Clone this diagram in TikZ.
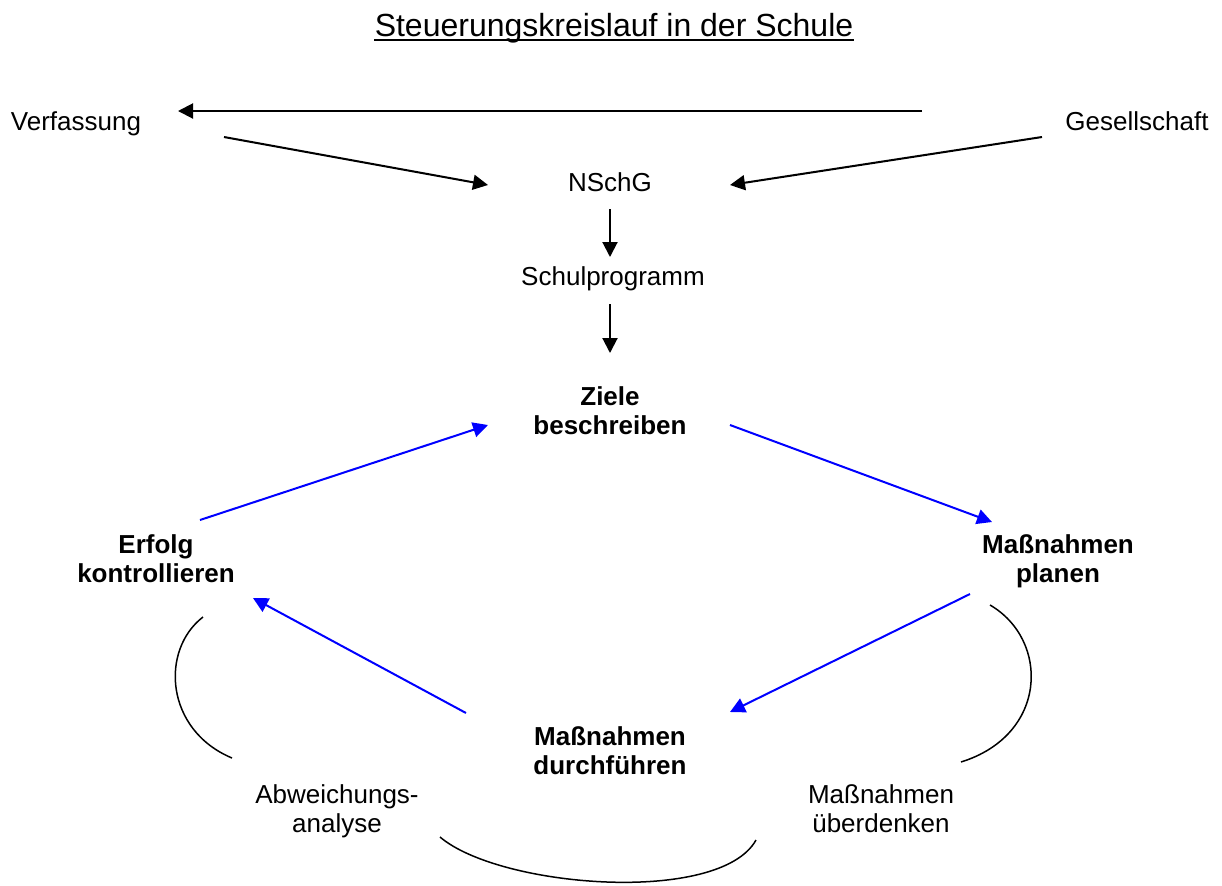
\documentclass[tikz,border=0pt]{standalone}
\usepackage{fontspec}
\setmainfont{Liberation Sans}
\usetikzlibrary{arrows.meta}
\begin{document}
\begin{tikzpicture}[x=0.5pt,y=-0.5pt,
  lbl/.style={inner sep=0pt,font=\fontsize{13}{14.5}\selectfont,align=center},
  blbl/.style={lbl,font=\fontsize{13}{14.5}\selectfont\bfseries},
  blk/.style={line width=1pt,-{Triangle[length=7.5pt,width=7.5pt]}},
  blu/.style={line width=1pt,draw={rgb,255:red,0;green,0;blue,255},-{Triangle[length=7.5pt,width=7.5pt]},fill={rgb,255:red,0;green,0;blue,255}},
  arcline/.style={line width=0.75pt}]
\useasboundingbox (0,0) rectangle (1222,885);
% texts
\node[inner sep=0pt,font=\fontsize{16}{18}\selectfont,anchor=base] (title) at (614,36) {Steuerungskreislauf in der Schule};
\draw[line width=1pt] ([yshift=-2pt]title.base west) -- ([yshift=-2pt]title.base east);
\node[lbl,anchor=base] (verf) at (76,130) {Verfassung};
\node[lbl,anchor=base] (ges) at (1137,130) {Gesellschaft};
\node[lbl,anchor=base] (nschg) at (610,191) {NSchG};
\node[lbl,anchor=base] (schul) at (613,285) {Schulprogramm};
\node[blbl,anchor=north] (ziele) at (610,386) {Ziele\\beschreiben};
\node[blbl,anchor=north] (erfolg) at (156,534) {Erfolg\\kontrollieren};
\node[blbl,anchor=north] (planen) at (1058,534) {Maßnahmen\\planen};
\node[blbl,anchor=north] (durch) at (610,726) {Maßnahmen\\durchführen};
\node[lbl,anchor=north] (abw) at (337,784) {Abweichungs-\\analyse};
\node[lbl,anchor=north] (ueber) at (881,784) {Maßnahmen\\überdenken};
% connector end points
\coordinate (gesTop) at (922,111);
\coordinate (verfIn) at (178,111);
\coordinate (verfOut) at (224,137);
\coordinate (nschgL) at (488,185);
\coordinate (gesOut) at (1042,137);
\coordinate (nschgR) at (730,185);
\coordinate (nschgB) at (610,209);
\coordinate (schulT) at (610,257);
\coordinate (schulB) at (610,304);
\coordinate (zieleT) at (610,353);
\coordinate (erfolgOut) at (200,520);
\coordinate (zieleInL) at (488,425);
\coordinate (zieleOut) at (730,425);
\coordinate (planenIn) at (992,522);
\coordinate (planenOut) at (970,594);
\coordinate (durchIn) at (730,712);
\coordinate (durchOut) at (466,713);
\coordinate (erfolgIn) at (253,598);
% black arrows
\draw[blk] (gesTop) -- (verfIn);
\draw[blk] (verfOut) -- (nschgL);
\draw[blk] (gesOut) -- (nschgR);
\draw[blk] (nschgB) -- (schulT);
\draw[blk] (schulB) -- (zieleT);
% blue cycle
\draw[blu] (erfolgOut) -- (zieleInL);
\draw[blu] (zieleOut) -- (planenIn);
\draw[blu] (planenOut) -- (durchIn);
\draw[blu] (durchOut) -- (erfolgIn);
% arcs
\coordinate (la1) at (203,617);
\coordinate (la2) at (232,758);
\coordinate (ra1) at (990,605);
\coordinate (ra2) at (961,762);
\coordinate (ba1) at (440,837);
\coordinate (ba2) at (756,840);
\draw[arcline] (la1) .. controls (160,650) and (165,730) .. (la2);
\draw[arcline] (ra1) .. controls (1050,640) and (1048,735) .. (ra2);
\draw[arcline] (ba1) .. controls (500,888) and (720,905) .. (ba2);
\end{tikzpicture}
\end{document}
